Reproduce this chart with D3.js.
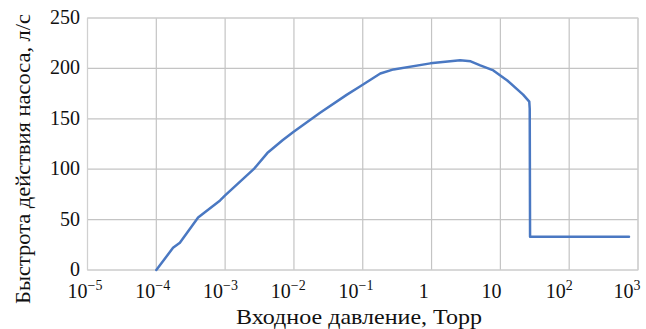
<!DOCTYPE html>
<html><head><meta charset="utf-8">
<script src="https://cdn.jsdelivr.net/npm/d3@7"></script>
</head><body style="margin:0">
<svg id="c" width="646" height="329"></svg>
<script>
const pressure = [1e-4, 1.75e-4, 2.2e-4, 4.05e-4, 8.45e-4, 1e-3, 2.6e-3, 4.1e-3, 6.9e-3, 9.8e-3, 0.024, 0.059, 0.091, 0.18, 0.28, 0.96, 2.6, 3.7, 5.1, 7.9, 12.6, 21.4, 26.3, 26.7, 27.0, 740];
const speed    = [0, 22, 27, 52, 69, 74, 100, 116, 129, 137, 156, 174, 182, 195, 199, 205, 208, 207, 203, 198, 188, 174, 167, 160, 33, 33];
const yTicks = [0, 50, 100, 150, 200, 250];
const xTickExp = [-5, -4, -3, -2, -1, 0, 1, 2, 3];
const xTitle = "Входное давление, Торр";
const yTitle = "Быстрота действия насоса, л/с";

const FONT = '"Liberation Serif"';
const svg = d3.select("#c");
const L = 87.5, R = 638, T = 18, B = 270;
const x = d3.scaleLog().domain([1e-5, 1e3]).range([L, R]);
const xLab = d3.scaleLog().domain([1e-5, 1e3]).range([85, 627]);
const y = d3.scaleLinear().domain([0, 250]).range([B, T]);

// grid
const g = svg.append("g");
g.selectAll("line.h").data(yTicks).join("line")
  .attr("x1", L).attr("x2", R).attr("y1", d => y(d)).attr("y2", d => y(d))
  .attr("stroke", "#c4c4c4").attr("stroke-width", 1.2);
g.selectAll("line.v").data(xTickExp).join("line")
  .attr("y1", T).attr("y2", B).attr("x1", d => x(Math.pow(10, d))).attr("x2", d => x(Math.pow(10, d)))
  .attr("stroke", "#c4c4c4").attr("stroke-width", 1.2);
g.append("rect").attr("x", L).attr("y", T).attr("width", R - L).attr("height", B - T)
  .attr("fill", "none").attr("stroke", "#d0d0d0").attr("stroke-width", 1);

// y labels
svg.selectAll("text.yl").data(yTicks).join("text")
  .attr("x", 80).attr("y", d => y(d) + 6)
  .attr("text-anchor", "end").attr("font-size", 20).attr("fill", "#111")
  .style("font-family", FONT)
  .text(d => d);

// x labels
const xl = svg.selectAll("text.xl").data(xTickExp).join("text")
  .attr("x", d => xLab(Math.pow(10, d))).attr("y", 298)
  .attr("text-anchor", "middle").attr("font-size", 20).attr("fill", "#111")
  .style("font-family", FONT);
xl.each(function(d) {
  const t = d3.select(this);
  if (d === 0) { t.text("1"); return; }
  if (d === 1) { t.text("10"); return; }
  t.append("tspan").text("10").style("font-family", FONT);
  t.append("tspan").attr("dy", -8).attr("font-size", 14).style("font-family", FONT)
    .text(d < 0 ? "\u2212" + (-d) : String(d));
});

// titles
svg.append("text").attr("x", 359).attr("y", 324).attr("text-anchor", "middle")
  .attr("font-size", 21).attr("fill", "#111").style("font-family", FONT)
  .attr("textLength", 246).attr("lengthAdjust", "spacingAndGlyphs").text(xTitle);
svg.append("text").attr("transform", "translate(30,159) rotate(-90)").attr("text-anchor", "middle")
  .attr("font-size", 20).attr("fill", "#111").style("font-family", FONT)
  .attr("textLength", 290).attr("lengthAdjust", "spacingAndGlyphs").text(yTitle);

// line
const line = d3.line().x((d, i) => x(pressure[i])).y((d, i) => y(speed[i]));
svg.append("path").datum(speed).attr("d", line)
  .attr("fill", "none").attr("stroke", "#4a78c2").attr("stroke-width", 2.5)
  .attr("stroke-linejoin", "round").attr("stroke-linecap", "round");
</script>
</body></html>
